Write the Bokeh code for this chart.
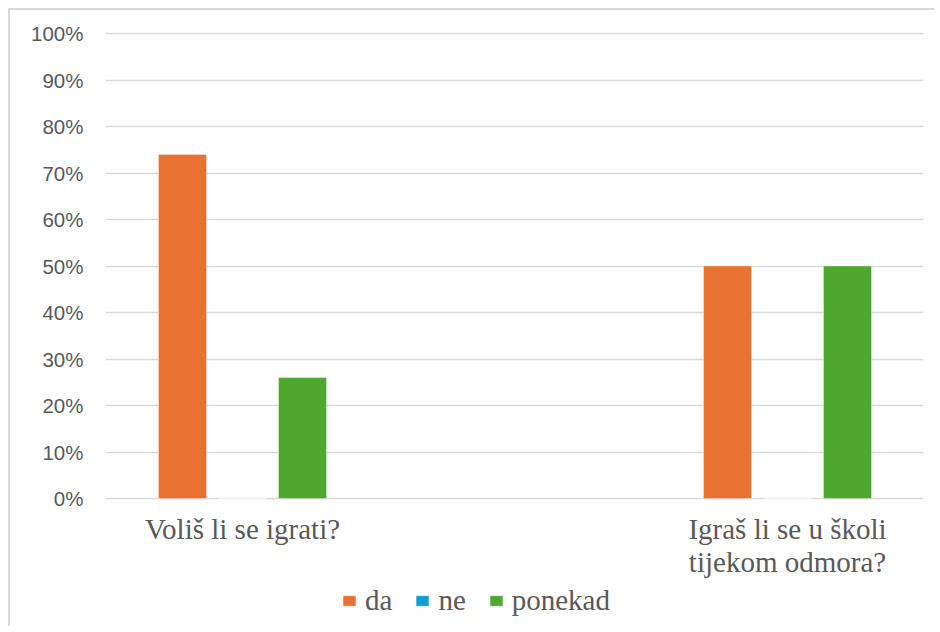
from bokeh.plotting import figure
from bokeh.models import (ColumnDataSource, Range1d, FixedTicker, NumeralTickFormatter,
                          Legend, LegendItem, InlineStyleSheet)
from bokeh.core.properties import value
from bokeh.transform import dodge
from bokeh.embed import file_html
from bokeh.resources import INLINE

categories = ["Voliš li se igrati?", "Igraš li se u školi\ntijekom odmora?"]
da = [0.74, 0.50]
ne = [0.0, 0.0]
ponekad = [0.26, 0.50]
series_names = ["da", "ne", "ponekad"]
colors = ["#E97132", "#0F9ED5", "#4EA72E"]
y_ticks = [i / 10 for i in range(11)]

idx = list(range(len(categories)))
src = ColumnDataSource(dict(x=idx, da=da, ne=ne, ponekad=ponekad,
                            label=categories, base=[0.0] * len(categories)))

# frame extends below 0% so that category labels and legend live inside it
p = figure(width=926, height=618, output_backend="svg", toolbar_location=None,
           x_range=Range1d(-137 / 545, 1 + 136 / 545),
           y_range=Range1d(-130 / 465, 1 + 2 / 465),
           min_border_left=95, min_border_right=13, min_border_top=21, min_border_bottom=0)
p.stylesheets = [InlineStyleSheet(css=":host { margin: 10px 0 0 10px !important; "
                                      "box-shadow: -2px -2px 0 0 #d9d9d9; }")]
p.outline_line_color = None
p.background_fill_color = "white"
p.border_fill_color = "white"

bw = 48 / 545
off = 60 / 545
renderers = []
for i, (name, col) in enumerate(zip(series_names, colors)):
    r = p.vbar(x=dodge("x", (i - 1) * off, range=p.x_range), top=name, width=bw, source=src,
               fill_color=col, line_color="white", line_alpha=0.35, line_width=1)
    renderers.append(r)

# category labels
p.text(x="x", y="base", text="label", source=src, text_align="center", text_baseline="top",
       y_offset=14, text_font=value("Liberation Serif"), text_font_size="29px",
       text_color="#595959", text_line_height=1.05)

# axes
p.xaxis.visible = False
p.yaxis.ticker = FixedTicker(ticks=y_ticks)
p.yaxis.formatter = NumeralTickFormatter(format="0%")
p.yaxis.axis_line_color = None
p.yaxis.major_tick_line_color = None
p.yaxis.minor_tick_line_color = None
p.yaxis.major_label_text_font = "Liberation Sans"
p.yaxis.major_label_text_font_size = "20.5px"
p.yaxis.major_label_text_color = "#595959"
p.yaxis.major_label_standoff = 16

p.xgrid.grid_line_color = None
p.ygrid.ticker = FixedTicker(ticks=y_ticks)
p.ygrid.grid_line_color = "#d9d9d9"
p.ygrid.grid_line_width = 1.5

legend = Legend(items=[LegendItem(label=n, renderers=[r]) for n, r in zip(series_names, renderers)],
                orientation="horizontal", location=(236, 11),
                label_standoff=8, spacing=22, padding=4, margin=0,
                glyph_width=16, glyph_height=13,
                border_line_color=None, background_fill_alpha=0)
legend.label_text_font = "Liberation Serif"
legend.label_text_font_size = "29px"
legend.label_text_color = "#595959"
p.add_layout(legend, "center")

open("out.html", "w").write(file_html(p, INLINE))
